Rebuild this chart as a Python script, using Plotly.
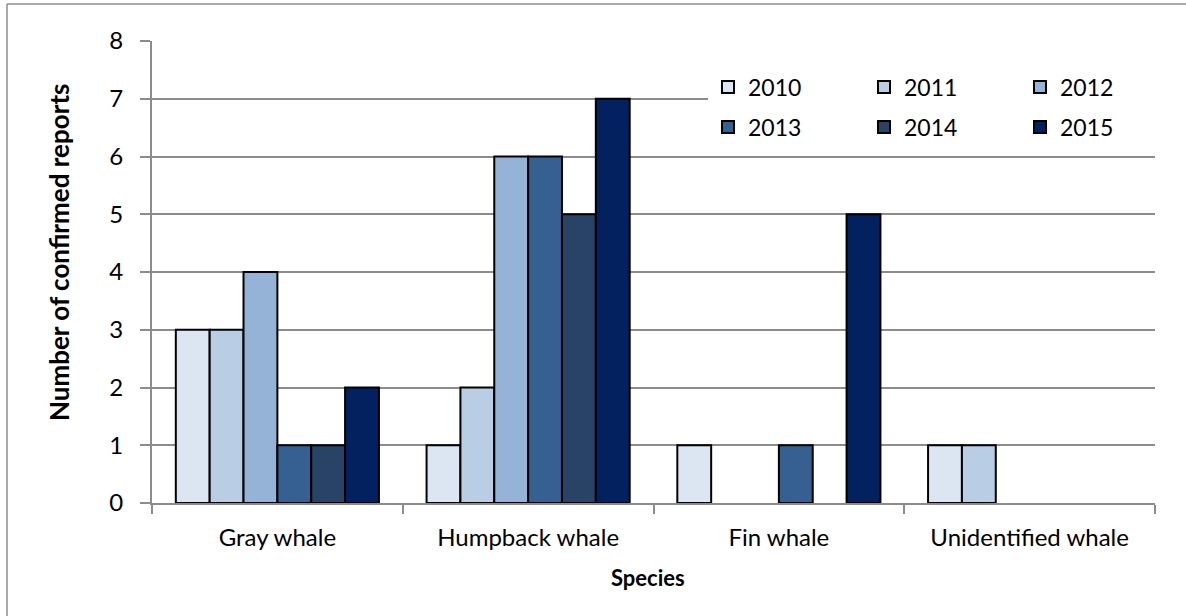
import plotly.graph_objects as go

species = ["Gray whale", "Humpback whale", "Fin whale", "Unidentified whale"]
years = ["2010", "2011", "2012", "2013", "2014", "2015"]

reports_2010 = [3, 1, 1, 1]
reports_2011 = [3, 2, 0, 1]
reports_2012 = [4, 6, 0, 0]
reports_2013 = [1, 6, 1, 0]
reports_2014 = [1, 5, 0, 0]
reports_2015 = [2, 7, 5, 0]

series = [reports_2010, reports_2011, reports_2012, reports_2013, reports_2014, reports_2015]
colors = ["#DCE6F2", "#B9CDE5", "#95B3D7", "#376092", "#284366", "#03215E"]

x_title = "Species"
y_title = "Number of confirmed reports"

FONT = "Lato, sans-serif"
grid = "#8C8C8C"

W, H = 1186, 616
ML, MR, MT, MB = 152, 0, 41, 113
plot_w = W - ML - MR
axis_right = 1155  # right end of the category axis, in px


def px_x(px):
    return (px - ML) / plot_w


def px_y(py):
    return (H - MB - py) / (H - MT - MB)


fig = go.Figure()
for i, (year, vals, col) in enumerate(zip(years, series, colors)):
    # zero counts are left empty so no outline is drawn on the baseline
    fig.add_trace(go.Bar(
        x=species,
        y=[v if v else None for v in vals],
        name=year,
        legend="legend" if i < 3 else "legend2",
        marker=dict(color=col, line=dict(color="black", width=2)),
    ))

legend_common = dict(
    orientation="h", xanchor="left", yanchor="middle",
    bgcolor="white", entrywidth=111, entrywidthmode="pixels",
    font=dict(family=FONT, size=23, color="black"), itemwidth=30,
)

fig.update_layout(
    width=W, height=H,
    margin=dict(l=ML, r=MR, t=MT, b=MB),
    paper_bgcolor="white", plot_bgcolor="white",
    barmode="group", bargap=0.19, bargroupgap=0,
    font=dict(family=FONT, size=23, color="black"),
    xaxis=dict(
        domain=[0, px_x(axis_right)],
        tickson="boundaries", ticks="outside", ticklen=9, tickwidth=2, tickcolor=grid,
        showline=True, linecolor=grid, linewidth=2,
        tickfont=dict(size=24), ticklabelstandoff=12,
    ),
    yaxis=dict(
        range=[0, 8], dtick=1, showgrid=True, gridcolor=grid, gridwidth=2,
        ticks="outside", ticklen=10, tickwidth=2, tickcolor=grid,
        showline=True, linecolor=grid, linewidth=2, zeroline=False,
        tickfont=dict(size=24), ticklabelstandoff=12,
    ),
    legend=dict(x=px_x(708), y=px_y(87), **legend_common),
    legend2=dict(x=px_x(708), y=px_y(127), **legend_common),
    annotations=[
        dict(text=f"<b>{y_title}</b>", xref="paper", yref="paper",
             x=px_x(59), y=px_y(252), xanchor="center", yanchor="middle",
             textangle=-90, showarrow=False, font=dict(size=26)),
        dict(text=f"<b>{x_title}</b>", xref="paper", yref="paper",
             x=px_x(648), y=px_y(577), xanchor="center", yanchor="middle",
             showarrow=False, font=dict(size=22)),
    ],
    shapes=[
        dict(type="line", xref="paper", yref="paper", x0=px_x(7), x1=px_x(7), y0=px_y(620), y1=px_y(4),
             line=dict(color=grid, width=1.5)),
        dict(type="line", xref="paper", yref="paper", x0=px_x(7), x1=px_x(1190), y0=px_y(4), y1=px_y(4),
             line=dict(color=grid, width=1.5)),
    ],
)

fig.write_html("out.html")
